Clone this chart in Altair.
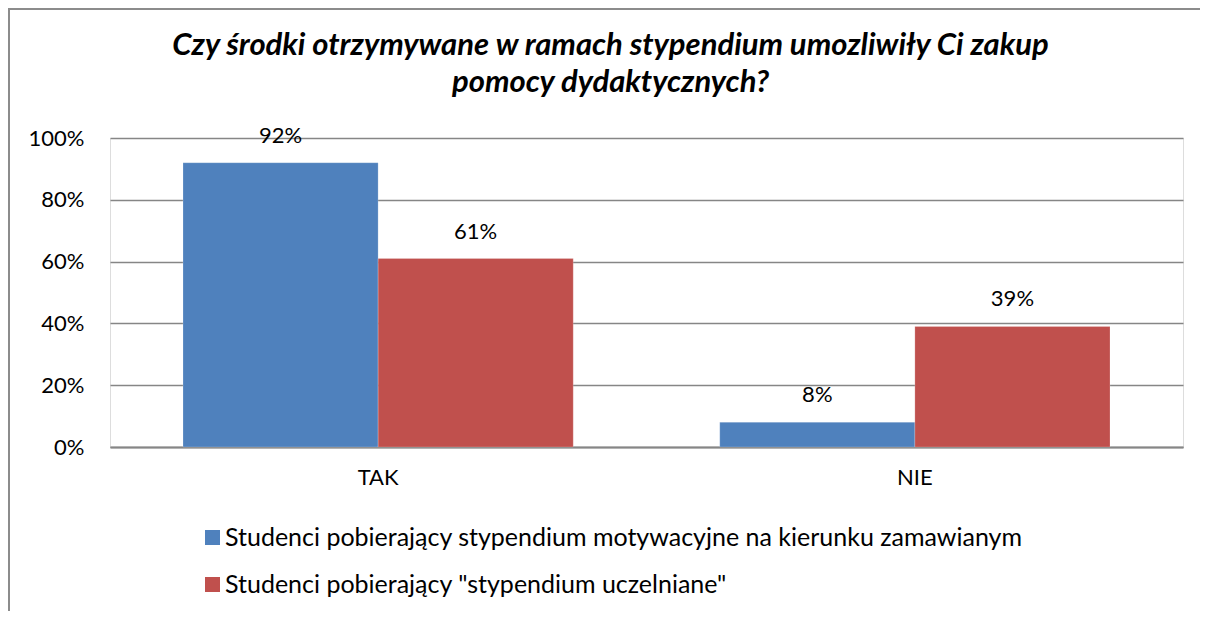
import altair as alt
import pandas as pd

categories = ["TAK", "NIE"]
series = [
    "Studenci pobierający stypendium motywacyjne na kierunku zamawianym",
    'Studenci pobierający "stypendium uczelniane"',
]
values_motyw = [0.92, 0.08]
values_uczel = [0.61, 0.39]
colors = ["#4F81BD", "#C0504D"]
title_lines = [
    "Czy środki otrzymywane w ramach stypendium umozliwiły Ci zakup",
    "pomocy dydaktycznych?",
]

rows = []
for i, c in enumerate(categories):
    rows.append({"kat": c, "seria": series[0], "val": values_motyw[i]})
    rows.append({"kat": c, "seria": series[1], "val": values_uczel[i]})
df = pd.DataFrame(rows)

FONT = "Lato"
PW, PH = 1073, 309
PL, PT = 102, 130
TOTW, TOTH = 1192, 603

x = alt.X("kat:N", sort=categories, title=None,
          scale=alt.Scale(paddingInner=0.273, paddingOuter=0.136),
          axis=alt.Axis(labelAngle=0, labelFont=FONT, labelFontSize=22,
                        labelColor="#000000", labelPadding=20, ticks=False,
                        domain=True, domainColor="#868686", domainWidth=2,
                        grid=False))
xo = alt.XOffset("seria:N", sort=series, scale=alt.Scale(paddingInner=0, paddingOuter=0))
y = alt.Y("val:Q", title=None,
          scale=alt.Scale(domain=[0, 1], nice=False),
          axis=alt.Axis(format=".0%", values=[0, 0.2, 0.4, 0.6, 0.8, 1.0],
                        labelFont=FONT, labelFontSize=22, labelColor="#000000",
                        labelPadding=26, ticks=False, domain=False,
                        grid=True, gridColor="#868686", gridWidth=1.6))

base = alt.Chart(df)

bars = base.mark_bar(stroke="#ffffff", strokeWidth=0.4, strokeOpacity=0.5).encode(
    x=x, xOffset=xo, y=y,
    color=alt.Color("seria:N", sort=series,
                    scale=alt.Scale(domain=series, range=colors),
                    legend=alt.Legend(title=None, orient="none", legendX=90, legendY=387,
                                      direction="vertical", symbolType="square",
                                      symbolSize=225, symbolStrokeWidth=0,
                                      labelFont=FONT, labelFontSize=25,
                                      labelColor="#000000", labelOffset=0,
                                      rowPadding=21, labelLimit=1000)),
)

labels = base.mark_text(font=FONT, fontSize=22, color="#000000",
                        baseline="bottom", dy=-15).encode(
    x=x, xOffset=xo, y=y,
    text=alt.Text("val:Q", format=".0%"),
)

frame_df = pd.DataFrame({"a": [0]})
vline = alt.Chart(frame_df).mark_rule(color="#8c8c8c", strokeWidth=2).encode(
    x=alt.value(-PL + 1), y=alt.value(-PT), y2=alt.value(TOTH - PT))
hline = alt.Chart(frame_df).mark_rule(color="#8c8c8c", strokeWidth=2).encode(
    x=alt.value(-PL), x2=alt.value(TOTW - PL), y=alt.value(-PT + 1))

chart = alt.layer(bars, labels, vline, hline).properties(
    width=PW, height=PH,
    padding={"left": PL, "top": PT, "right": TOTW - PL - PW, "bottom": TOTH - PT - PH},
    autosize=alt.AutoSizeParams(type="none"),
    title=alt.TitleParams(text=title_lines, font=FONT, fontSize=31, fontWeight="bold",
                          fontStyle="italic", color="#000000", anchor="middle",
                          baseline="alphabetic",
                          lineHeight=37, dx=-36, dy=116, offset=0, frame="group"),
).configure_view(stroke=None).configure(background="#ffffff")

chart.save("out.html", embed_options={"renderer": "svg", "actions": False})
